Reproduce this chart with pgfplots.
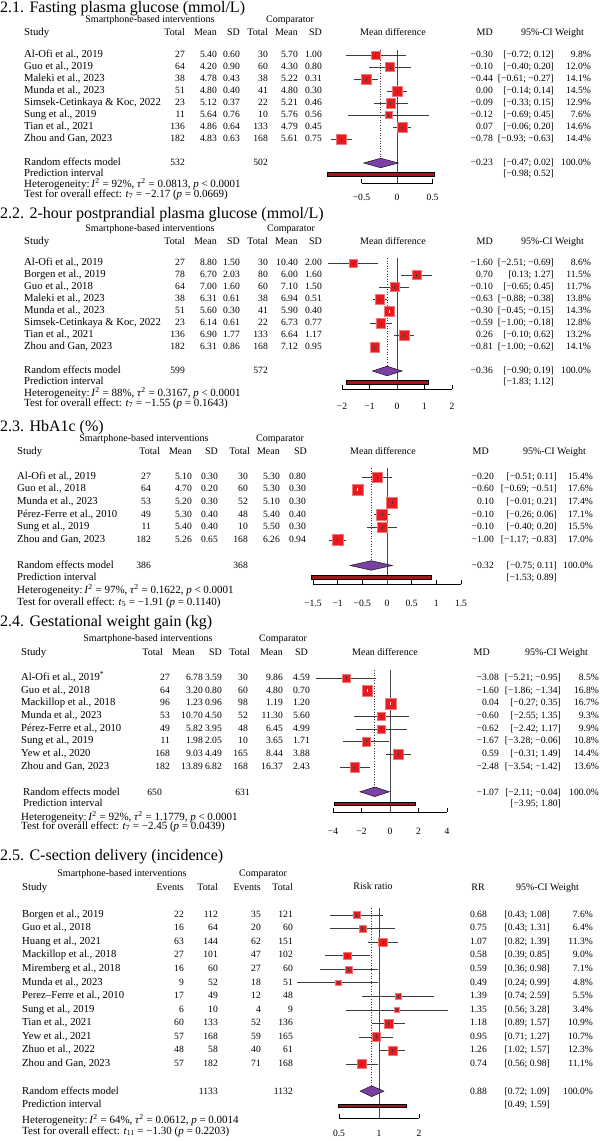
\documentclass[border=0pt]{standalone}
\usepackage{pgfplots}
\pgfplotsset{compat=1.18}
\usepackage{pgfplotstable}
\usepackage{fontspec}
\setmainfont{Liberation Serif}

\definecolor{sqred}{RGB}{232,26,32}
\definecolor{sqedge}{RGB}{242,120,120}
\definecolor{diamc}{RGB}{122,64,162}
\definecolor{pic}{RGB}{160,22,26}
\definecolor{nullc}{RGB}{70,70,70}
\definecolor{cic}{RGB}{60,60,60}

\newcommand\numfont{\fontsize{9.6}{11}\selectfont}
\newcommand\namefont{\fontsize{10.7}{12}\selectfont}
\newcommand\headfont{\fontsize{10}{11}\selectfont}
\newcommand\notefont{\fontsize{11}{12}\selectfont}
\newcommand\ttlfont{\fontsize{16}{18}\selectfont}

\pgfplotsset{
  forest/.style={scale only axis, clip=false, anchor=south west,
    axis x line*=bottom, axis y line=none,
    x axis line style={-, black, line width=0.6pt},
    xtick align=inside, major tick length=4pt,
    xtick style={black, line width=0.6pt},
    xticklabel style={font=\numfont, inner sep=0pt}},
  nullline/.style={nullc, line width=0.6pt},
  sumline/.style={black!80, line width=0.6pt, dash pattern=on 0.8pt off 1.8pt},
  boxes/.style={scatter, only marks, mark=square*, point meta=explicit,
    scatter/use mapped color={draw=sqedge, fill=sqred},
    visualization depends on={1.32*sqrt(\thisrow{w}) \as \ms},
    scatter/@pre marker code/.append style={/tikz/mark size=\ms}},
  cis/.style={only marks, mark=|, mark size=1.5pt, color=#1,
    mark options={#1, line width=0.5pt},
    error bars/x dir=both, error bars/x explicit, error bars/error mark=none,
    error bars/error bar style={#1, line width=0.7pt}},
  diam/.style={fill=diamc, draw=black, line width=0.4pt},
  pibar/.style={fill=pic, draw=black, line width=0.4pt},
  blackci/.style={restrict expr to domain={\thisrow{c}}{-0.5:0.5}},
  whiteci/.style={restrict expr to domain={\thisrow{c}}{0.5:1.5}},
}

% forest data: row, estimate, lower, upper, weight (%), white centre mark
\pgfplotstableread{
r md lo hi w c
1 -0.30 -0.72 0.12 9.8 0
2 -0.10 -0.40 0.20 12.0 0
3 -0.44 -0.61 -0.27 14.1 0
4 0.00 -0.14 0.14 14.5 0
5 -0.09 -0.33 0.15 12.9 0
6 -0.12 -0.69 0.45 7.6 0
7 0.07 -0.06 0.20 14.6 0
8 -0.78 -0.93 -0.63 14.4 0
}\tFPG
\pgfplotstableread{
r md lo hi w c
1 -1.60 -2.51 -0.69 8.6 0
2 0.70 0.13 1.27 11.5 0
3 -0.10 -0.65 0.45 11.7 0
4 -0.63 -0.88 -0.38 13.8 0
5 -0.30 -0.45 -0.15 14.3 1
6 -0.59 -1.00 -0.18 12.8 0
7 0.26 -0.10 0.62 13.2 0
8 -0.81 -1.00 -0.62 14.1 0
}\tPPG
\pgfplotstableread{
r md lo hi w c
1 -0.20 -0.51 0.11 15.4 0
2 -0.60 -0.69 -0.51 17.6 1
3 0.10 -0.01 0.21 17.4 0
4 -0.10 -0.26 0.06 17.1 0
5 -0.10 -0.40 0.20 15.5 0
6 -1.00 -1.17 -0.83 17.0 0
}\tHBA
\pgfplotstableread{
r md lo hi w c
1 -3.08 -5.21 -0.95 8.5 0
2 -1.60 -1.86 -1.34 16.8 1
3 0.04 -0.27 0.35 16.7 1
4 -0.60 -2.55 1.35 9.3 0
5 -0.62 -2.42 1.17 9.9 0
6 -1.67 -3.28 -0.06 10.8 0
7 0.59 -0.31 1.49 14.4 0
8 -2.48 -3.54 -1.42 13.6 0
}\tGWG
\pgfplotstableread{
r md lo hi w c
1 0.68 0.43 1.08 7.6 0
2 0.75 0.43 1.31 6.4 0
3 1.07 0.82 1.39 11.3 0
4 0.58 0.39 0.85 9.0 0
5 0.59 0.36 0.98 7.1 0
6 0.49 0.24 0.99 4.8 0
7 1.39 0.74 2.59 5.5 0
8 1.35 0.56 3.28 3.4 0
9 1.18 0.89 1.57 10.9 0
10 0.95 0.71 1.27 10.7 0
11 1.26 1.02 1.57 12.3 0
12 0.74 0.56 0.98 11.1 0
}\tCS

\tikzset{L/.style={anchor=mid west, inner sep=0pt, font=\namefont},
  N/.style={anchor=mid west, inner sep=0pt, font=\notefont},
  R/.style={anchor=mid east, inner sep=0pt, font=\numfont},
  H/.style={anchor=mid east, inner sep=0pt, font=\headfont},
  HL/.style={anchor=mid west, inner sep=0pt, font=\namefont},
  C/.style={anchor=mid, inner sep=0pt, font=\headfont},
  T/.style={anchor=base west, inner sep=0pt, font=\ttlfont}}

\newcommand\mdtable[1]{%
  \foreach \nm/\na/\ma/\sa/\nb/\mb/\sb/\md/\ci/\wt [count=\i] in {#1}{%
    \pgfmathsetmacro\yy{\yone+(\i-1)*\ysp}%
    \node[L] at (\xname,-\yy) {\nm};
    \node[R] at (\xna,-\yy) {\na};
    \node[R] at (\xma,-\yy) {\ma};
    \node[R] at (\xsa,-\yy) {\sa};
    \node[R] at (\xnb,-\yy) {\nb};
    \node[R] at (\xmb,-\yy) {\mb};
    \node[R] at (\xsb,-\yy) {\sb};
    \node[R] at (\xmd,-\yy) {\md};
    \node[R] at (\xci,-\yy) {\ci};
    \node[R] at (\xw,-\yy) {\wt};
  }}
\newcommand\rrtable[1]{%
  \foreach \nm/\ea/\ta/\eb/\tb/\rr/\ci/\wt [count=\i] in {#1}{%
    \pgfmathsetmacro\yy{\yone+(\i-1)*\ysp}%
    \node[L] at (\xname,-\yy) {\nm};
    \node[R] at (\xea,-\yy) {\ea};
    \node[R] at (\xta,-\yy) {\ta};
    \node[R] at (\xeb,-\yy) {\eb};
    \node[R] at (\xtb,-\yy) {\tb};
    \node[R] at (\xmd,-\yy) {\rr};
    \node[R] at (\xci,-\yy) {\ci};
    \node[R] at (\xw,-\yy) {\wt};
  }}

\begin{document}
\begin{tikzpicture}[x=1pt,y=1pt]
\useasboundingbox (0,0) rectangle (600,-1141);

% ---------------- 2.1 ----------------
\node[T] at (0,-12.5) {2.1. Fasting plasma glucose (mmol/L)};
\node[C] at (150,-20) {Smartphone-based interventions};
\node[C] at (290,-20) {Comparator};
\node[HL] at (24,-33) {Study};
\node[H] at (185,-33) {Total}; \node[H] at (217,-33) {Mean}; \node[H] at (240,-33) {SD};
\node[H] at (268,-33) {Total}; \node[H] at (298,-33) {Mean}; \node[H] at (322,-33) {SD};
\node[C] at (393,-33) {Mean difference};
\node[H] at (493,-33) {MD}; \node[H] at (584,-33) {95\%-CI Weight};
\def\yone{55}\def\ysp{12}\def\xname{24}\def\xna{185}\def\xma{217}\def\xsa{240}
\def\xnb{268}\def\xmb{298}\def\xsb{322}\def\xmd{493}\def\xci{554}\def\xw{591}
\mdtable{{Al-Ofi et al., 2019}/27/5.40/0.60/30/5.70/1.00/−0.30/{[−0.72; 0.12]}/9.8\%,
{Guo et al., 2019}/64/4.20/0.90/60/4.30/0.80/−0.10/{[−0.40; 0.20]}/12.0\%,
{Maleki et al., 2023}/38/4.78/0.43/38/5.22/0.31/−0.44/{[−0.61; −0.27]}/14.1\%,
{Munda et al., 2023}/51/4.80/0.40/41/4.80/0.30/0.00/{[−0.14; 0.14]}/14.5\%,
{Simsek-Cetinkaya \& Koc, 2022}/23/5.12/0.37/22/5.21/0.46/−0.09/{[−0.33; 0.15]}/12.9\%,
{Sung et al., 2019}/11/5.64/0.76/10/5.76/0.56/−0.12/{[−0.69; 0.45]}/7.6\%,
{Tian et al., 2021}/136/4.86/0.64/133/4.79/0.45/0.07/{[−0.06; 0.20]}/14.6\%,
{Zhou and Gan, 2023}/182/4.83/0.63/168/5.61/0.75/−0.78/{[−0.93; −0.63]}/14.4\%}
\node[L] at (24,-163) {Random effects model};
\node[R] at (185,-163) {532}; \node[R] at (268,-163) {502};
\node[R] at (493,-163) {−0.23}; \node[R] at (554,-163) {[−0.47; 0.02]}; \node[R] at (591,-163) {100.0\%};
\node[L] at (24,-174) {Prediction interval};
\node[R] at (554,-174) {[−0.98; 0.52]};
\node[N] at (24,-185) {Heterogeneity:\,\textit{I}\textsuperscript{2} = 92\%, \textit{τ}\textsuperscript{2} = 0.0813, \textit{p} < 0.0001};
\node[N] at (24,-195) {Test for overall effect: \textit{t}\textsubscript{7} = −2.17 (\textit{p} = 0.0669)};

\begin{axis}[forest, at={(361.5pt,-183pt)}, width=71pt, height=133.4pt,
  xmin=-0.5, xmax=0.5, ymin=-11.667, ymax=-0.55,
  xtick={-0.5,0,0.5}, xticklabels={−0.5,0,0.5}, xticklabel style={yshift=-10.5pt}]
\addplot[nullline] coordinates {(0,-0.55) (0,-11.667)};
\addplot[sumline] coordinates {(-0.23,-0.55) (-0.23,-9.6)};
\addplot[boxes] table[x=md, y expr=-\thisrow{r}, meta=w] {\tFPG};
\addplot[cis=cic, blackci] table[x=md, y expr=-\thisrow{r},
  x error plus expr=\thisrow{hi}-\thisrow{md}, x error minus expr=\thisrow{md}-\thisrow{lo}] {\tFPG};
\addplot[diam] coordinates {(-0.47,-10) (-0.23,-9.6) (0.02,-10) (-0.23,-10.4)} -- cycle;
\addplot[pibar] coordinates {(-0.98,-10.78) (0.52,-10.78) (0.52,-11.06) (-0.98,-11.06)} -- cycle;
\end{axis}

% ---------------- 2.2 ----------------
\node[T] at (0,-218.5) {2.2. 2-hour postprandial plasma glucose (mmol/L)};
\node[C] at (150,-229) {Smartphone-based interventions};
\node[C] at (291,-229) {Comparator};
\node[HL] at (24,-242) {Study};
\node[H] at (185,-242) {Total}; \node[H] at (217,-242) {Mean}; \node[H] at (240,-242) {SD};
\node[H] at (268,-242) {Total}; \node[H] at (298,-242) {Mean}; \node[H] at (322,-242) {SD};
\node[C] at (393,-242) {Mean difference};
\node[H] at (493,-242) {MD}; \node[H] at (584,-242) {95\%-CI Weight};
\def\yone{263}\def\ysp{12}
\mdtable{{Al-Ofi et al., 2019}/27/8.80/1.50/30/10.40/2.00/−1.60/{[−2.51; −0.69]}/8.6\%,
{Borgen et al., 2019}/78/6.70/2.03/80/6.00/1.60/0.70/{[0.13; 1.27]}/11.5\%,
{Guo et al., 2018}/64/7.00/1.60/60/7.10/1.50/−0.10/{[−0.65; 0.45]}/11.7\%,
{Maleki et al., 2023}/38/6.31/0.61/38/6.94/0.51/−0.63/{[−0.88; −0.38]}/13.8\%,
{Munda et al., 2023}/51/5.60/0.30/41/5.90/0.40/−0.30/{[−0.45; −0.15]}/14.3\%,
{Simsek-Cetinkaya \& Koc, 2022}/23/6.14/0.61/22/6.73/0.77/−0.59/{[−1.00; −0.18]}/12.8\%,
{Tian et al., 2021}/136/6.90/1.77/133/6.64/1.17/0.26/{[−0.10; 0.62]}/13.2\%,
{Zhou and Gan, 2023}/182/6.31/0.86/168/7.12/0.95/−0.81/{[−1.00; −0.62]}/14.1\%}
\node[L] at (24,-371) {Random effects model};
\node[R] at (185,-371) {599}; \node[R] at (268,-371) {572};
\node[R] at (493,-371) {−0.36}; \node[R] at (554,-371) {[−0.90; 0.19]}; \node[R] at (591,-371) {100.0\%};
\node[L] at (24,-382) {Prediction interval};
\node[R] at (554,-382) {[−1.83; 1.12]};
\node[N] at (24,-394) {Heterogeneity:\,\textit{I}\textsuperscript{2} = 88\%, \textit{τ}\textsuperscript{2} = 0.3167, \textit{p} < 0.0001};
\node[N] at (24,-404) {Test for overall effect: \textit{t}\textsubscript{7} = −1.55 (\textit{p} = 0.1643)};

\begin{axis}[forest, at={(342pt,-389pt)}, width=110pt, height=131pt,
  xmin=-2, xmax=2, ymin=-11.5, ymax=-0.58,
  xtick={-2,-1,0,1,2}, xticklabels={−2,−1,0,1,2}, xticklabel style={yshift=-13.5pt}]
\addplot[nullline] coordinates {(0,-0.58) (0,-11.5)};
\addplot[sumline] coordinates {(-0.36,-0.58) (-0.36,-9.6)};
\addplot[boxes] table[x=md, y expr=-\thisrow{r}, meta=w] {\tPPG};
\addplot[cis=cic, blackci] table[x=md, y expr=-\thisrow{r},
  x error plus expr=\thisrow{hi}-\thisrow{md}, x error minus expr=\thisrow{md}-\thisrow{lo}] {\tPPG};
\addplot[cis=white, whiteci] table[x=md, y expr=-\thisrow{r},
  x error plus expr=\thisrow{hi}-\thisrow{md}, x error minus expr=\thisrow{md}-\thisrow{lo}] {\tPPG};
\addplot[diam] coordinates {(-0.90,-10) (-0.36,-9.6) (0.19,-10) (-0.36,-10.4)} -- cycle;
\addplot[pibar] coordinates {(-1.83,-10.78) (1.12,-10.78) (1.12,-11.06) (-1.83,-11.06)} -- cycle;
\end{axis}

% ---------------- 2.3 ----------------
\node[T] at (0,-431) {2.3. HbA1c (\%)};
\node[C] at (144,-439) {Smartphone-based interventions};
\node[C] at (280,-439) {Comparator};
\node[HL] at (17,-452) {Study};
\node[H] at (160,-452) {Total}; \node[H] at (192,-452) {Mean}; \node[H] at (218,-452) {SD};
\node[H] at (250,-452) {Total}; \node[H] at (280,-452) {Mean}; \node[H] at (307,-452) {SD};
\node[C] at (383,-452) {Mean difference};
\node[H] at (489,-452) {MD}; \node[H] at (586,-452) {95\%-CI Weight};
\def\yone{477}\def\ysp{12.6}\def\xname{17}\def\xna{151}\def\xma{192}\def\xsa{218}
\def\xnb{248}\def\xmb{280}\def\xsb{306}\def\xmd{494}\def\xci{557}\def\xw{593}
\mdtable{{Al-Ofi et al., 2019}/27/5.10/0.30/30/5.30/0.80/−0.20/{[−0.51; 0.11]}/15.4\%,
{Guo et al., 2018}/64/4.70/0.20/60/5.30/0.30/−0.60/{[−0.69; −0.51]}/17.6\%,
{Munda et al., 2023}/53/5.20/0.30/52/5.10/0.30/0.10/{[−0.01; 0.21]}/17.4\%,
{Pérez-Ferre et al., 2010}/49/5.30/0.40/48/5.40/0.40/−0.10/{[−0.26; 0.06]}/17.1\%,
{Sung et al., 2019}/11/5.40/0.40/10/5.50/0.30/−0.10/{[−0.40; 0.20]}/15.5\%,
{Zhou and Gan, 2023}/182/5.26/0.65/168/6.26/0.94/−1.00/{[−1.17; −0.83]}/17.0\%}
\node[L] at (17,-566) {Random effects model};
\node[R] at (151,-566) {386}; \node[R] at (248,-566) {368};
\node[R] at (494,-566) {−0.32}; \node[R] at (557,-566) {[−0.75; 0.11]}; \node[R] at (593,-566) {100.0\%};
\node[L] at (17,-578) {Prediction interval};
\node[R] at (557,-578) {[−1.53; 0.89]};
\node[N] at (17,-591) {Heterogeneity:\,\textit{I}\textsuperscript{2} = 97\%, \textit{τ}\textsuperscript{2} = 0.1622, \textit{p} < 0.0001};
\node[N] at (17,-603) {Test for overall effect: \textit{t}\textsubscript{5} = −1.91 (\textit{p} = 0.1140)};

\begin{axis}[forest, at={(313pt,-584pt)}, width=148pt, height=115.8pt,
  xmin=-1.5, xmax=1.5, ymin=-9.49, ymax=-0.3,
  xtick={-1.5,-1,...,1.5}, xticklabels={−1.5,−1,−0.5,0,0.5,1,1.5}, xticklabel style={yshift=-15.5pt}]
\addplot[nullline] coordinates {(0,-0.3) (0,-9.49)};
\addplot[sumline] coordinates {(-0.32,-0.3) (-0.32,-7.6)};
\addplot[boxes] table[x=md, y expr=-\thisrow{r}, meta=w] {\tHBA};
\addplot[cis=cic, blackci] table[x=md, y expr=-\thisrow{r},
  x error plus expr=\thisrow{hi}-\thisrow{md}, x error minus expr=\thisrow{md}-\thisrow{lo}] {\tHBA};
\addplot[cis=white, whiteci] table[x=md, y expr=-\thisrow{r},
  x error plus expr=\thisrow{hi}-\thisrow{md}, x error minus expr=\thisrow{md}-\thisrow{lo}] {\tHBA};
\addplot[diam] coordinates {(-0.75,-8.02) (-0.32,-7.64) (0.11,-8.02) (-0.32,-8.40)} -- cycle;
\addplot[pibar] coordinates {(-1.53,-8.83) (0.89,-8.83) (0.89,-9.10) (-1.53,-9.10)} -- cycle;
\end{axis}

% ---------------- 2.4 ----------------
\node[T] at (0,-626.5) {2.4. Gestational weight gain (kg)};
\node[C] at (148,-639) {Smartphone-based interventions};
\node[C] at (283,-639) {Comparator};
\node[HL] at (21,-653) {Study};
\node[H] at (163,-653) {Total}; \node[H] at (195,-653) {Mean}; \node[H] at (222,-653) {SD};
\node[H] at (250,-653) {Total}; \node[H] at (283,-653) {Mean}; \node[H] at (308,-653) {SD};
\node[C] at (385,-653) {Mean difference};
\node[H] at (490,-653) {MD}; \node[H] at (588,-653) {95\%-CI Weight};
\def\yone{678}\def\ysp{12.71}\def\xname{21}\def\xna{170}\def\xma{203}\def\xsa{222}
\def\xnb{248}\def\xmb{283}\def\xsb{310}\def\xmd{499}\def\xci{561}\def\xw{599}
\mdtable{{Al-Ofi et al., 2019\textsuperscript{*}}/27/6.78/3.59/30/9.86/4.59/−3.08/{[−5.21; −0.95]}/8.5\%,
{Guo et al., 2018}/64/3.20/0.80/60/4.80/0.70/−1.60/{[−1.86; −1.34]}/16.8\%,
{Mackillop et al., 2018}/96/1.23/0.96/98/1.19/1.20/0.04/{[−0.27; 0.35]}/16.7\%,
{Munda et al., 2023}/53/10.70/4.50/52/11.30/5.60/−0.60/{[−2.55; 1.35]}/9.3\%,
{Pérez-Ferre et al., 2010}/49/5.82/3.95/48/6.45/4.99/−0.62/{[−2.42; 1.17]}/9.9\%,
{Sung et al., 2019}/11/1.98/2.05/10/3.65/1.71/−1.67/{[−3.28; −0.06]}/10.8\%,
{Yew et al., 2020}/168/9.03/4.49/165/8.44/3.88/0.59/{[−0.31; 1.49]}/14.4\%,
{Zhou and Gan, 2023}/182/13.89/6.82/168/16.37/2.43/−2.48/{[−3.54; −1.42]}/13.6\%}
\node[L] at (23,-793) {Random effects model};
\node[R] at (162,-793) {650}; \node[R] at (250,-793) {631};
\node[R] at (499,-793) {−1.07}; \node[R] at (561,-793) {[−2.11; −0.04]}; \node[R] at (599,-793) {100.0\%};
\node[L] at (23,-804) {Prediction interval};
\node[R] at (561,-804) {[−3.95; 1.80]};
\node[N] at (21,-818) {Heterogeneity:\,\textit{I}\textsuperscript{2} = 92\%, \textit{τ}\textsuperscript{2} = 1.1779, \textit{p} < 0.0001};
\node[N] at (21,-827) {Test for overall effect: \textit{t}\textsubscript{7} = −2.45 (\textit{p} = 0.0439)};

\begin{axis}[forest, at={(333pt,-812pt)}, width=114pt, height=142pt,
  xmin=-4, xmax=4, ymin=-11.54, ymax=-0.37,
  xtick={-4,-2,0,2,4}, xticklabels={−4,−2,0,2,4}, xticklabel style={yshift=-15.5pt}]
\addplot[nullline] coordinates {(0,-0.37) (0,-11.54)};
\addplot[sumline] coordinates {(-1.07,-0.37) (-1.07,-9.55)};
\addplot[boxes] table[x=md, y expr=-\thisrow{r}, meta=w] {\tGWG};
\addplot[cis=cic, blackci] table[x=md, y expr=-\thisrow{r},
  x error plus expr=\thisrow{hi}-\thisrow{md}, x error minus expr=\thisrow{md}-\thisrow{lo}] {\tGWG};
\addplot[cis=white, whiteci] table[x=md, y expr=-\thisrow{r},
  x error plus expr=\thisrow{hi}-\thisrow{md}, x error minus expr=\thisrow{md}-\thisrow{lo}] {\tGWG};
\addplot[diam] coordinates {(-2.11,-9.95) (-1.07,-9.57) (-0.04,-9.95) (-1.07,-10.33)} -- cycle;
\addplot[pibar] coordinates {(-3.95,-10.78) (1.80,-10.78) (1.80,-11.04) (-3.95,-11.04)} -- cycle;
\end{axis}

% ---------------- 2.5 ----------------
\node[T] at (0,-860.5) {2.5. C-section delivery (incidence)};
\node[C] at (122,-874) {Smartphone-based interventions};
\node[C] at (263,-874) {Comparator};
\node[HL] at (22,-888) {Study};
\node[H] at (184,-888) {Events}; \node[H] at (218,-888) {Total};
\node[H] at (261,-888) {Events}; \node[H] at (293,-888) {Total};
\node[C] at (373,-887) {Risk ratio};
\node[H] at (485,-888) {RR}; \node[H] at (579,-888) {95\%-CI Weight};
\def\yone{915}\def\ysp{13.55}\def\xname{22}\def\xea{184}\def\xta{218}
\def\xeb{261}\def\xtb{293}\def\xmd{487}\def\xci{550}\def\xw{593}
\rrtable{{Borgen et al., 2019}/22/112/35/121/0.68/{[0.43; 1.08]}/7.6\%,
{Guo et al., 2018}/16/64/20/60/0.75/{[0.43; 1.31]}/6.4\%,
{Huang et al., 2021}/63/144/62/151/1.07/{[0.82; 1.39]}/11.3\%,
{Mackillop et al., 2018}/27/101/47/102/0.58/{[0.39; 0.85]}/9.0\%,
{Miremberg et al., 2018}/16/60/27/60/0.59/{[0.36; 0.98]}/7.1\%,
{Munda et al., 2023}/9/52/18/51/0.49/{[0.24; 0.99]}/4.8\%,
{Perez–Ferre et al., 2010}/17/49/12/48/1.39/{[0.74; 2.59]}/5.5\%,
{Sung et al., 2019}/6/10/4/9/1.35/{[0.56; 3.28]}/3.4\%,
{Tian et al., 2021}/60/133/52/136/1.18/{[0.89; 1.57]}/10.9\%,
{Yew et al., 2021}/57/168/59/165/0.95/{[0.71; 1.27]}/10.7\%,
{Zhuo et al., 2022}/48/58/40/61/1.26/{[1.02; 1.57]}/12.3\%,
{Zhou and Gan, 2023}/57/182/71/168/0.74/{[0.56; 0.98]}/11.1\%}
\node[L] at (22,-1092) {Random effects model};
\node[R] at (218,-1092) {1133}; \node[R] at (293,-1092) {1132};
\node[R] at (487,-1092) {0.88}; \node[R] at (550,-1092) {[0.72; 1.09]}; \node[R] at (593,-1092) {100.0\%};
\node[L] at (22,-1105) {Prediction interval};
\node[R] at (550,-1105) {[0.49; 1.59]};
\node[N] at (22,-1121) {Heterogeneity:\,\textit{I}\textsuperscript{2} = 64\%, \textit{τ}\textsuperscript{2} = 0.0612, \textit{p} = 0.0014};
\node[N] at (22,-1132) {Test for overall effect: \textit{t}\textsubscript{11} = −1.30 (\textit{p} = 0.2203)};

\begin{axis}[forest, at={(339pt,-1118pt)}, width=80pt, height=210pt,
  xmode=log, log basis x=2, xmin=0.5, xmax=2, ymin=-15.98, ymax=-0.48,
  xtick={0.5,1,2}, xticklabels={0.5,1,2}, xminorticks=false,
  xticklabel style={yshift=-11.5pt}]
\addplot[nullline] coordinates {(1,-0.48) (1,-15.98)};
\addplot[sumline] coordinates {(0.88,-0.48) (0.88,-13.6)};
\addplot[boxes] table[x=md, y expr=-\thisrow{r}, meta=w] {\tCS};
\addplot[cis=cic] table[x=md, y expr=-\thisrow{r},
  x error plus expr=\thisrow{hi}-\thisrow{md}, x error minus expr=\thisrow{md}-\thisrow{lo}] {\tCS};
\addplot[diam] coordinates {(0.72,-14) (0.88,-13.6) (1.09,-14) (0.88,-14.4)} -- cycle;
\addplot[pibar] coordinates {(0.49,-14.93) (1.59,-14.93) (1.59,-15.19) (0.49,-15.19)} -- cycle;
\end{axis}
\end{tikzpicture}
\end{document}
